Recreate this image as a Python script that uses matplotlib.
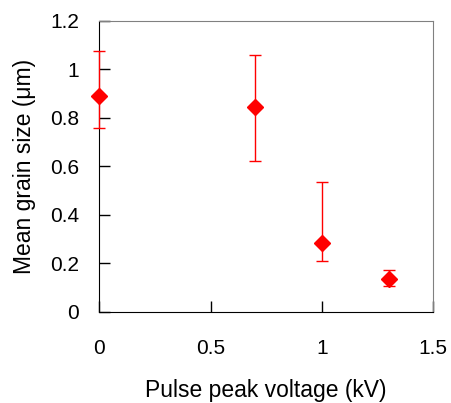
import matplotlib

matplotlib.use("Agg")
import matplotlib.pyplot as plt  # noqa: E402

voltage_kv = [0.0, 0.7, 1.0, 1.3]
grain_um = [0.888, 0.843, 0.285, 0.135]
err_upper = [1.076, 1.060, 0.534, 0.172]
err_lower = [0.759, 0.621, 0.210, 0.106]

x_ticks = [0, 0.5, 1, 1.5]
x_tick_labels = ["0", "0.5", "1", "1.5"]
y_ticks = [0, 0.2, 0.4, 0.6, 0.8, 1.0, 1.2]
y_tick_labels = ["0", "0.2", "0.4", "0.6", "0.8", "1", "1.2"]

plt.rcParams["font.family"] = ["Liberation Sans", "DejaVu Sans"]

fig = plt.figure(figsize=(4.52, 4.03), dpi=100)
ax = fig.add_axes([99.5 / 452, 1 - 311.7 / 403, 333.5 / 452, 291 / 403])

yerr = [
    [g - lo for g, lo in zip(grain_um, err_lower)],
    [hi - g for g, hi in zip(grain_um, err_upper)],
]
ax.errorbar(
    voltage_kv, grain_um, yerr=yerr, fmt="D", color="#ff0000",
    markersize=8, ecolor="#ff0000", elinewidth=1, capsize=4, capthick=1,
    clip_on=False, zorder=3,
)

ax.set_xlim(0, 1.5)
ax.set_ylim(0, 1.2)
ax.set_xticks(x_ticks)
ax.set_xticklabels(x_tick_labels)
ax.set_yticks(y_ticks)
ax.set_yticklabels(y_tick_labels)
ax.tick_params(direction="in", length=8, width=1, labelsize=15)
ax.tick_params(axis="y", pad=14.5)
ax.tick_params(axis="x", pad=19.5)

for side in ("left", "bottom"):
    ax.spines[side].set_color("black")
for side in ("top", "right"):
    ax.spines[side].set_color("#808080")

ax.set_xlabel("Pulse peak voltage (kV)", fontsize=16.5, labelpad=15.5)
ax.set_ylabel("Mean grain size (\u03bcm)", fontsize=16.5, labelpad=10.5)

fig.savefig("out.png", dpi=100)
